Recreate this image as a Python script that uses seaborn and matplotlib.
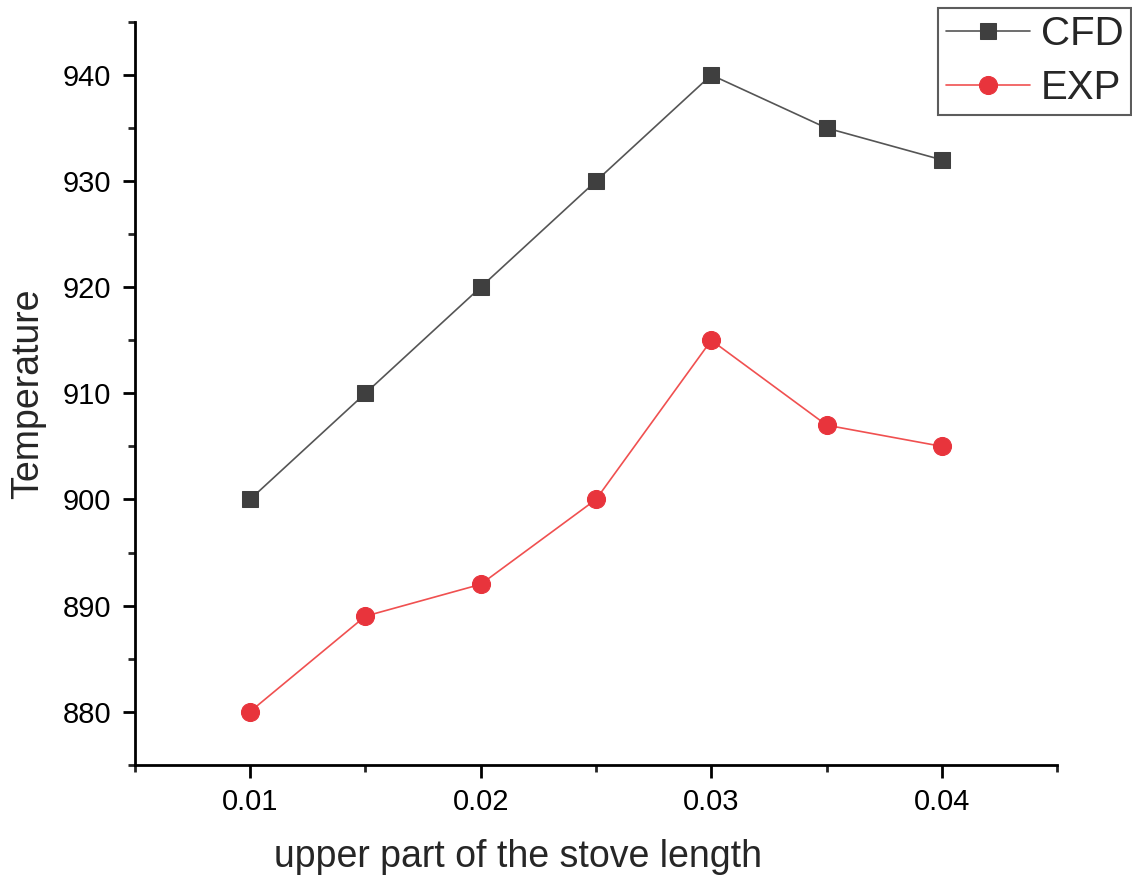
import matplotlib
matplotlib.use("Agg")
import matplotlib.pyplot as plt
import seaborn as sns
import pandas as pd
from matplotlib.ticker import MultipleLocator

x_vals = [0.01, 0.015, 0.02, 0.025, 0.03, 0.035, 0.04]
cfd = [900, 910, 920, 930, 940, 935, 932]
exp = [880, 889, 892, 900, 915, 907, 905]

sns.set_style("ticks")
plt.rcParams['font.family'] = ['Liberation Sans', 'DejaVu Sans']

fig = plt.figure(figsize=(11.32, 8.77), dpi=100)
ax = fig.add_axes([0.119, 0.128, 0.815, 0.847])

sns.lineplot(x=x_vals, y=cfd, ax=ax, color="#555555", lw=1.2, marker="s",
             markersize=12, markerfacecolor="#3f3f3f", markeredgecolor="#3f3f3f",
             label="CFD")
sns.lineplot(x=x_vals, y=exp, ax=ax, color="#f05050", lw=1.2, marker="o",
             markersize=13, markerfacecolor="#e8343c", markeredgecolor="#e8343c",
             label="EXP")

ax.set_xlim(0.005, 0.045)
ax.set_ylim(875, 945)
ax.xaxis.set_major_locator(MultipleLocator(0.01))
ax.xaxis.set_minor_locator(MultipleLocator(0.005))
ax.yaxis.set_major_locator(MultipleLocator(10))
ax.yaxis.set_minor_locator(MultipleLocator(5))
ax.set_xticks([0.01, 0.02, 0.03, 0.04])
ax.set_xticklabels(["0.01", "0.02", "0.03", "0.04"])
ax.tick_params(which="major", direction="out", length=9, width=2, labelsize=21, pad=8, colors="black")
ax.tick_params(which="minor", direction="out", length=5, width=2)
for s in ["left", "bottom"]:
    ax.spines[s].set_linewidth(2)
    ax.spines[s].set_color("black")
ax.spines["top"].set_visible(False)
ax.spines["right"].set_visible(False)

ax.set_xlabel("upper part of the stove length", fontsize=27)
ax.xaxis.set_label_coords(0.415, -0.1)
ax.set_ylabel("Temperature", fontsize=27, labelpad=12)

ax.legend_.remove()
handles, labels = ax.get_legend_handles_labels()
leg = fig.legend(handles, labels, loc="upper right", bbox_to_anchor=(0.999, 0.991),
                 fontsize=29, frameon=True, fancybox=False, edgecolor="#333333",
                 handlelength=2.1, handletextpad=0.27, borderpad=0.18, labelspacing=0.4,
                 borderaxespad=0)
leg.get_frame().set_linewidth(1.5)

fig.savefig("out.png", dpi=100)
